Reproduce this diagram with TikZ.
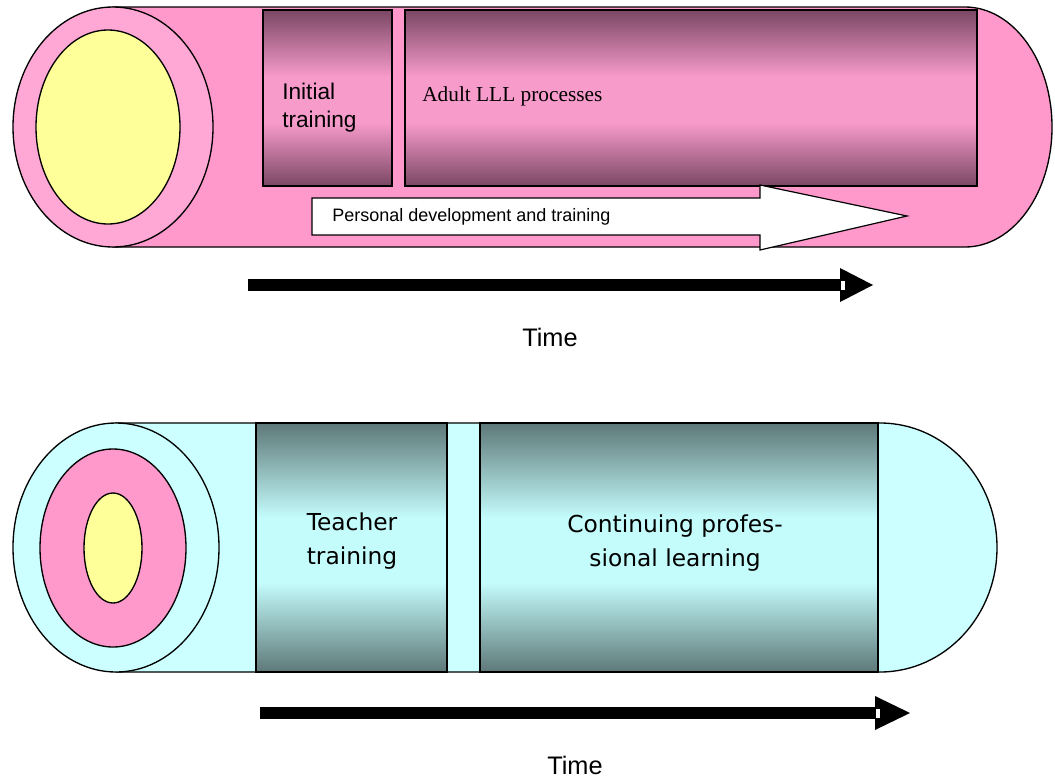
\documentclass[tikz,border=0pt]{standalone}
\usepackage{fontspec}
\newfontfamily\arialf{Liberation Sans}
\newfontfamily\timesf{Liberation Serif}
\newfontfamily\verdf{DejaVu Sans}
\definecolor{pinkbody}{HTML}{FF99CC}
\definecolor{pinkface}{HTML}{FFA8D6}
\definecolor{pinkdark}{HTML}{7A4764}
\definecolor{pinklight}{HTML}{F79BCB}
\definecolor{yellowin}{HTML}{FFFF99}
\definecolor{cyanbody}{HTML}{CCFFFF}
\definecolor{tealdark}{HTML}{5E7878}
\definecolor{teallight}{HTML}{C4FCFC}
\pgfdeclareverticalshading{pinkgrad}{100bp}{color(0bp)=(pinkdark); color(25bp)=(pinkdark); color(43bp)=(pinklight); color(56bp)=(pinklight); color(75bp)=(pinkdark); color(100bp)=(pinkdark)}
\pgfdeclareverticalshading{tealgrad}{100bp}{color(0bp)=(tealdark); color(25bp)=(tealdark); color(43bp)=(teallight); color(56bp)=(teallight); color(75bp)=(tealdark); color(100bp)=(tealdark)}
\tikzset{
  outline/.style={draw=black, line width=1pt},
  pinkbox/.style={rectangle, draw=black, line width=0.9pt, shading=pinkgrad, inner sep=0pt, outer sep=0pt},
  tealbox/.style={rectangle, draw=black, line width=0.9pt, shading=tealgrad, inner sep=0pt, outer sep=0pt},
  timebar/.style={line width=9pt},
  timelabel/.style={font=\arialf\fontsize{19pt}{22pt}\selectfont},
  tealtext/.style={font=\verdf\fontsize{17.5pt}{26pt}\selectfont, align=center},
}
\begin{document}
\begin{tikzpicture}[x=0.75pt,y=-0.75pt]
\useasboundingbox (0,0) rectangle (1055,778);
% ---------- top cylinder ----------
\draw[outline, fill=pinkbody] (113,7) -- (965,7)
  arc[start angle=-90, end angle=90, x radius=87, y radius=120] -- (113,247) -- cycle;
\draw[outline, fill=pinkface] (113,127) ellipse[x radius=100, y radius=120];
\draw[outline, fill=yellowin] (108,127) ellipse[x radius=72, y radius=97];
\node[pinkbox, minimum width=96.75pt, minimum height=132pt] (init) at (327.5,98) {};
\node[pinkbox, minimum width=429pt, minimum height=132pt] (adult) at (691,98) {};
\node[anchor=west, align=left, font=\arialf\fontsize{17pt}{21pt}\selectfont, inner sep=0pt] (inittext) at (282,108) {Initial\\training};
\node[anchor=west, font=\timesf\fontsize{16pt}{19pt}\selectfont, inner sep=0pt] (adulttext) at (422,96) {Adult LLL processes};
% personal development arrow
\draw[line width=0.9pt, fill=white] (312,198) -- (760,198) -- (760,185) -- (907,216) -- (760,250) -- (760,235) -- (312,235) -- cycle;
\node[anchor=west, font=\arialf\fontsize{13.5pt}{16pt}\selectfont, inner sep=0pt] (pers) at (332,217) {Personal development and training};
% time arrow 1
\coordinate (t1s) at (248,285);
\coordinate (t1e) at (843,285);
\draw[timebar] (t1s) -- (t1e);
\fill (t1e) ++(-3,-17) -- ++(33,17) -- ++(-33,17) -- cycle;
\fill[white] (841,281) rectangle (845,290);
\node[timelabel] (time1) at (550,337) {Time};
% ---------- bottom cylinder ----------
\draw[outline, fill=cyanbody] (116,423) -- (880,423)
  arc[start angle=-90, end angle=90, x radius=117, y radius=124.5] -- (116,672) -- cycle;
\draw[outline, fill=cyanbody] (116,547.5) ellipse[x radius=103, y radius=124.5];
\draw[outline, fill=pinkbody] (113,548) ellipse[x radius=73, y radius=99];
\draw[outline, fill=yellowin] (113,548) ellipse[x radius=29, y radius=55];
\node[tealbox, minimum width=143.25pt, minimum height=186.75pt] (teach) at (351.5,547.5) {};
\node[tealbox, minimum width=298.5pt, minimum height=186.75pt] (cont) at (679,547.5) {};
\node[tealtext] (teachtext) at (352,541) {Teacher\\training};
\node[tealtext] (conttext) at (675,543) {Continuing profes-\\sional learning};
% time arrow 2
\coordinate (t2s) at (260,713);
\coordinate (t2e) at (878,713);
\draw[timebar] (t2s) -- (t2e);
\fill (t2e) ++(-3,-17) -- ++(35,17) -- ++(-35,17) -- cycle;
\fill[white] (876,709) rectangle (880,718);
\node[timelabel] (time2) at (575,765) {Time};
\end{tikzpicture}
\end{document}
